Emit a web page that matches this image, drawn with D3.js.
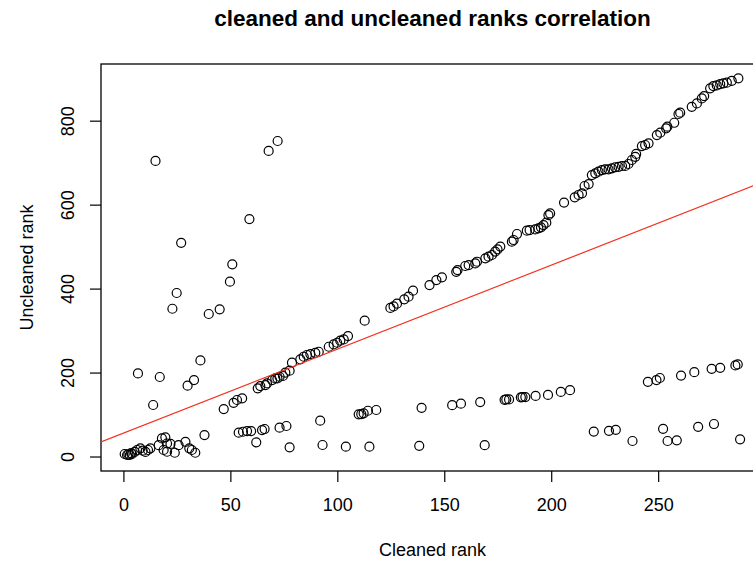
<!DOCTYPE html>
<html lang="en">
<head>
  <meta charset="UTF-8">
  <title>cleaned and uncleaned ranks correlation</title>
  <script src="https://d3js.org/d3.v7.min.js"></script>
  <style>
    body {
      margin: 0;
      background: #fff;
      font-family: "Liberation Sans", Arial, Helvetica, sans-serif;
    }
  </style>
</head>
<body>
<script>
const width = 753;
const height = 565;

// [cleaned rank, uncleaned rank]
const earlyPoints = [
  [0.6, 6], [1.7, 3.6], [2.3, 5], [3, 3.6], [3.6, 8], [4, 6], [5.3, 11], [6.4, 15.5],
  [7.9, 19.5], [9, 14], [10.3, 11], [11.5, 15.5], [12.6, 19.5], [16.5, 27], [18, 43],
  [19.6, 45.7], [20.4, 31], [22, 30], [18.8, 15.5], [20.4, 11.4], [24, 9], [25.8, 27],
  [29, 35], [30.8, 19.5], [32, 15.5], [33.6, 9]
];

const scatterPoints = [
  [15, 704], [67.9, 728], [72.1, 751.6], [58.9, 565.7], [27, 509], [50.9, 457.8],
  [49.8, 416.4], [24.9, 389.5], [22.9, 352], [39.9, 339.5], [45, 350.6], [36, 229],
  [6.8, 198], [17, 189.4], [33, 182], [30, 168.7], [13.9, 122.7], [46.9, 113], [37.9, 51]
];

const upperPoints = [
  [51.5, 128], [53.1, 134.6], [55.5, 138.6], [62.8, 162.5], [64, 167.9], [66.4, 170],
  [67.1, 174], [69.5, 182], [71, 186], [72, 186], [73, 190], [74.6, 191.8], [75.7, 199.6],
  [77.7, 204.4], [78.8, 223.5], [82.7, 231.5], [84.3, 237.7], [85.8, 241.8], [87.4, 244],
  [89.7, 247], [91.3, 249.6], [96, 261.5], [98.3, 267], [99.9, 271], [101.4, 276],
  [103, 279], [105, 287], [112.8, 323.5], [124.8, 354], [126.3, 357.5], [127.9, 364],
  [131.3, 374.5], [133.3, 380.7], [135.4, 395], [143.1, 408.5], [146.3, 420.4],
  [148.9, 426.8], [155.6, 440], [156.2, 444], [159.8, 453.8], [161.4, 456], [164.5, 460],
  [165.3, 464], [169.2, 472], [170.7, 476], [172.3, 480], [173.8, 488], [174.9, 493.6],
  [176.2, 500], [181.6, 511.7], [182.4, 515.7], [184, 530], [188.6, 538], [189.9, 539.5],
  [192.5, 541], [194, 543.5], [195.2, 546], [196.4, 551.4], [197.7, 557], [198.7, 575],
  [199.5, 579], [206, 605], [211, 617.4], [212.8, 623], [214.4, 627], [215.6, 644.4],
  [217.5, 649], [219, 670.5], [220.6, 674.6], [222.1, 678.4], [223.7, 682.4], [225.2, 684],
  [226.8, 684], [228.4, 686.5], [229.9, 689], [231.5, 690], [233.1, 692], [234.6, 692],
  [236.1, 696.8], [237.7, 706.3], [239.3, 714], [239.7, 720.7], [242.4, 739.6],
  [243.9, 742], [245.5, 746], [249.4, 765.8], [251, 771.3], [253.7, 781.8], [254.3, 785.6],
  [257.5, 795], [259.5, 815.9], [260.3, 819], [265.7, 833], [268.1, 841], [270.4, 853],
  [271.5, 858.7], [274.3, 877], [275.8, 882.5], [277.4, 884], [279, 887], [280.5, 889],
  [282.1, 890.4], [284.4, 895], [287.5, 900.9]
];

const lowerPoints = [
  [53.9, 56.7], [55.9, 59], [57.8, 60.7], [59.7, 60.7], [64.8, 63], [66, 65.5], [73, 68.6],
  [76.2, 72.7], [92, 85.3], [110, 100.5], [111.2, 101], [112.3, 102.9], [114.3, 109],
  [118.2, 110.8], [139.4, 116], [153.7, 122.4], [157.8, 125.8], [166.8, 129.8],
  [178.2, 135], [179, 136], [180.3, 136], [185.8, 141], [186.6, 141.7], [187.9, 141.7],
  [192.7, 144.4], [198.5, 146.7], [204.5, 153.8], [208.8, 158], [245.2, 178], [249.2, 182],
  [250.8, 187], [260.7, 192.7], [266.9, 200.8], [275, 208.9], [279, 211.3], [286.1, 217],
  [287.2, 219.4]
];

const bottomPoints = [
  [62.1, 33.8], [77.7, 21.9], [93.1, 27.4], [104, 23.4], [115, 23.4], [138.3, 25.5],
  [168.9, 27], [219.9, 59.5], [227, 61.2], [230.2, 63.6], [238, 37], [252.3, 66],
  [254.4, 37], [258.7, 38.6], [268.7, 70.7], [276.1, 77.4], [288.3, 41]
];

const xTicks = [0, 50, 100, 150, 200, 250];
const yTicks = [0, 200, 400, 600, 800];

// fitted line: uncleaned = intercept + slope * cleaned
const fitIntercept = 55.8;
const fitSlope = 2.0;

const points = [...earlyPoints, ...scatterPoints, ...upperPoints, ...lowerPoints, ...bottomPoints];

// plot region (right edge runs past the picture, as in the reference)
const plot = {left: 101, right: 764, top: 64, bottom: 471};

const svg = d3.select("body").append("svg")
  .attr("width", width)
  .attr("height", height)
  .attr("viewBox", [0, 0, width, height]);

const x = d3.scaleLinear().domain([-10.48, 299.48]).range([plot.left, plot.right]);
const y = d3.scaleLinear().domain([-34.5, 935]).range([plot.bottom, plot.top]);

svg.append("defs").append("clipPath")
  .attr("id", "clip")
  .append("rect")
  .attr("x", plot.left)
  .attr("y", plot.top)
  .attr("width", plot.right - plot.left)
  .attr("height", plot.bottom - plot.top);

// x axis
const xAxis = svg.append("g")
  .attr("transform", `translate(0,${plot.bottom})`)
  .call(d3.axisBottom(x).tickValues(xTicks).tickSize(11).tickSizeOuter(0));
xAxis.select(".domain").remove();
xAxis.selectAll("line").attr("stroke", "#000").attr("stroke-width", 1.2);
xAxis.selectAll("text")
  .attr("y", 34)
  .attr("dy", "0.35em")
  .attr("fill", "#000")
  .style("font-size", "18px")
  .style("font-family", "'Liberation Sans', Arial, sans-serif");

// y axis
const yAxis = svg.append("g")
  .attr("transform", `translate(${plot.left},0)`)
  .call(d3.axisLeft(y).tickValues(yTicks).tickSize(11).tickSizeOuter(0));
yAxis.select(".domain").remove();
yAxis.selectAll("line").attr("stroke", "#000").attr("stroke-width", 1.2);
yAxis.selectAll("text")
  .attr("transform", "rotate(-90)")
  .attr("x", 0)
  .attr("y", -33)
  .attr("dy", "0.35em")
  .attr("text-anchor", "middle")
  .attr("fill", "#000")
  .style("font-size", "18px")
  .style("font-family", "'Liberation Sans', Arial, sans-serif");

// box
svg.append("rect")
  .attr("x", plot.left)
  .attr("y", plot.top)
  .attr("width", plot.right - plot.left)
  .attr("height", plot.bottom - plot.top)
  .attr("fill", "none")
  .attr("stroke", "#000")
  .attr("stroke-width", 1.3);

// points
svg.append("g")
  .selectAll("circle")
  .data(points)
  .join("circle")
  .attr("cx", d => x(d[0]))
  .attr("cy", d => y(d[1]))
  .attr("r", 4.5)
  .attr("fill", "none")
  .attr("stroke", "#000")
  .attr("stroke-width", 1.2);

// fit line
const [x0, x1] = x.domain();
svg.append("line")
  .attr("clip-path", "url(#clip)")
  .attr("x1", x(x0))
  .attr("y1", y(fitIntercept + fitSlope * x0))
  .attr("x2", x(x1))
  .attr("y2", y(fitIntercept + fitSlope * x1))
  .attr("stroke", "#f2311f")
  .attr("stroke-width", 1.2);

// titles
svg.append("text")
  .attr("x", (plot.left + plot.right) / 2)
  .attr("y", 18)
  .attr("dy", "0.35em")
  .attr("text-anchor", "middle")
  .style("font-size", "22.5px")
  .style("font-weight", "bold")
  .text("cleaned and uncleaned ranks correlation");

svg.append("text")
  .attr("x", (plot.left + plot.right) / 2)
  .attr("y", 550)
  .attr("dy", "0.35em")
  .attr("text-anchor", "middle")
  .style("font-size", "18px")
  .text("Cleaned rank");

svg.append("text")
  .attr("transform", `translate(27,${(plot.top + plot.bottom) / 2}) rotate(-90)`)
  .attr("dy", "0.35em")
  .attr("text-anchor", "middle")
  .style("font-size", "18px")
  .text("Uncleaned rank");
</script>
</body>
</html>
